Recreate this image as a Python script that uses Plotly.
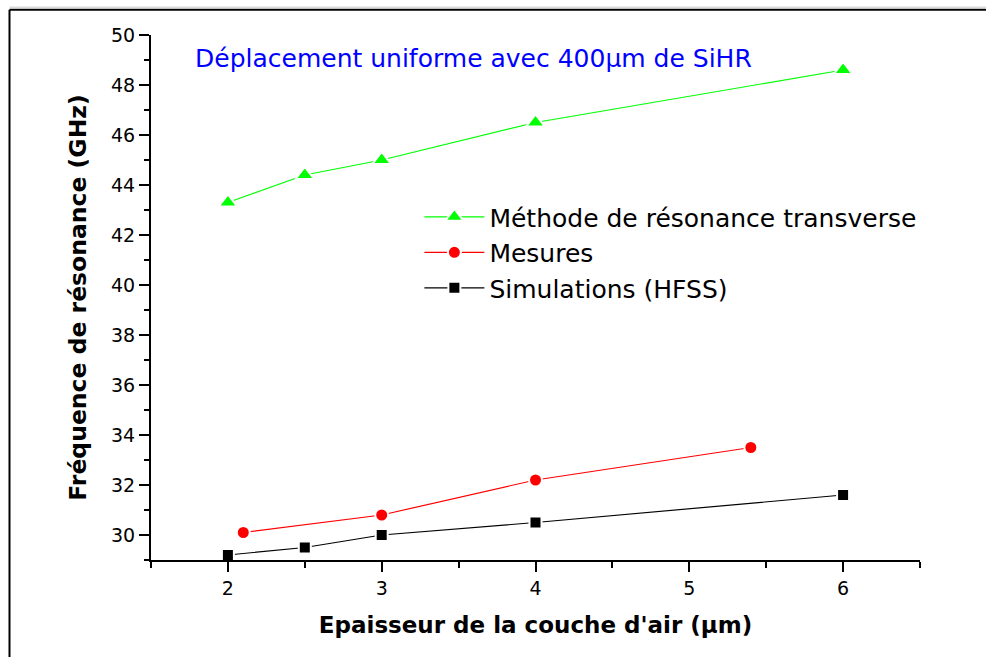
import plotly.graph_objects as go

# Air-gap thickness (µm) and resonance frequency (GHz) for each series
x_trt = [2, 2.5, 3, 4, 6]
f_trt = [43.3, 44.4, 45.0, 46.5, 48.6]

x_mes = [2.1, 3, 4, 5.4]
f_mes = [30.1, 30.8, 32.2, 33.5]

x_sim = [2, 2.5, 3, 4, 6]
f_sim = [29.2, 29.5, 30.0, 30.5, 31.6]

names = ["Méthode de résonance transverse", "Mesures", "Simulations (HFSS)"]
FONT = "DejaVu Sans, Arial, sans-serif"

fig = go.Figure()

series = [
    (x_trt, f_trt, names[0], "#00FF00", "triangle-up", 16),
    (x_mes, f_mes, names[1], "#FF0000", "circle", 13),
    (x_sim, f_sim, names[2], "#000000", "square", 12),
]
for i, (xs, ys, nm, col, sym, sz) in enumerate(series):
    fig.add_trace(go.Scatter(
        x=xs, y=ys, name=nm, mode="lines+markers",
        legendgroup=f"g{i}",
        line=dict(color=col, width=1.2),
        marker=dict(symbol=sym, size=sz, color=col,
                    line=dict(color="white", width=2)),
    ))

axis_common = dict(
    showline=True, linecolor="black", linewidth=2,
    ticks="outside", ticklen=10, tickwidth=2, tickcolor="black",
    showgrid=False, zeroline=False, mirror=False,
    tickfont=dict(family=FONT, size=19, color="black"),
)

fig.update_xaxes(
    range=[1.5, 6.5], dtick=1, tick0=0,
    minor=dict(dtick=0.5, tick0=0, ticks="outside", ticklen=6, tickwidth=2, tickcolor="black"),
    title=dict(text="<b>Epaisseur de la couche d'air (µm)</b>",
               font=dict(family=FONT, size=23, color="black"), standoff=19),
    **axis_common,
)
fig.update_yaxes(
    range=[29, 50], dtick=2, tick0=0,
    minor=dict(dtick=1, tick0=0, ticks="outside", ticklen=5, tickwidth=2, tickcolor="black"),
    title=dict(text="<b>Fréquence de résonance (GHz)</b>",
               font=dict(family=FONT, size=23.5, color="black"), standoff=18),
    **axis_common,
)

fig.add_annotation(
    text="Déplacement uniforme avec 400µm de SiHR",
    xref="paper", yref="paper", x=0.054, y=0.955,
    xanchor="left", yanchor="middle", showarrow=False,
    font=dict(family=FONT, size=25, color="#0000FF"),
)

# Outer frame (left and top edges) plus the faint rule above it
fig.add_shape(type="line", xref="paper", yref="paper",
              x0=-0.184, x1=-0.184, y0=1.048, y1=-0.2,
              line=dict(color="black", width=2))
fig.add_shape(type="line", xref="paper", yref="paper",
              x0=-0.184, x1=1.1, y0=1.048, y1=1.048,
              line=dict(color="black", width=2))
fig.add_shape(type="line", xref="paper", yref="paper",
              x0=-0.184, x1=1.1, y0=1.053, y1=1.053,
              line=dict(color="#C8C8C8", width=1))

fig.update_layout(
    width=986, height=657,
    margin=dict(l=151, r=66, t=35, b=97),
    paper_bgcolor="white", plot_bgcolor="white",
    font=dict(family=FONT, color="black"),
    showlegend=True,
    legend=dict(
        x=0.349, y=0.697, xanchor="left", yanchor="top",
        bgcolor="rgba(0,0,0,0)", borderwidth=0,
        font=dict(family=FONT, size=25, color="black"),
        tracegroupgap=0, itemwidth=60,
    ),
)

fig.write_html("out.html")
